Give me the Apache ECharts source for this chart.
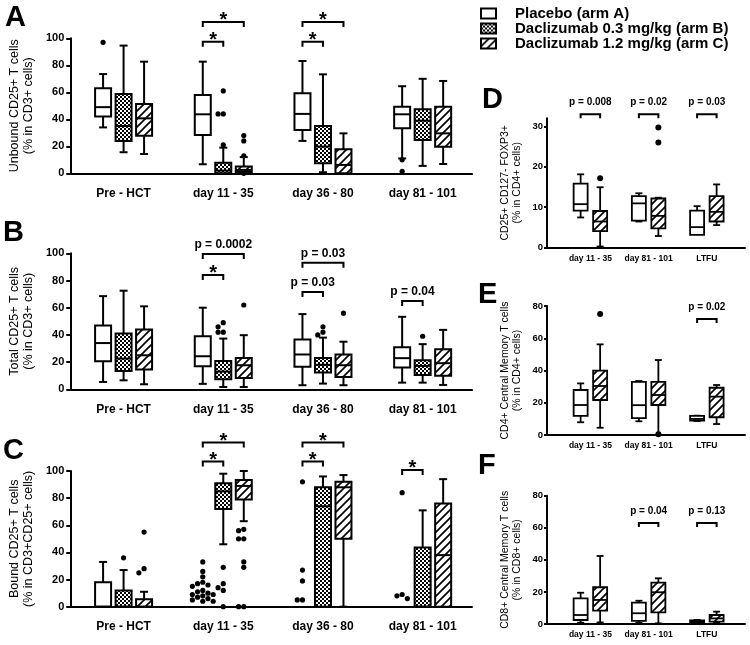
<!DOCTYPE html>
<html><head><meta charset="utf-8">
<script src="https://cdn.jsdelivr.net/npm/echarts@6/dist/echarts.min.js"></script>
<style>html,body{margin:0;padding:0;background:#fff}#c{width:750px;height:645px}</style>
</head><body><div id="c"></div><script>
// ---------- data ----------
const armNames = ['Placebo (arm A)', 'Daclizumab 0.3 mg/kg (arm B)', 'Daclizumab 1.2 mg/kg (arm C)'];
const catsABC = ['Pre - HCT', 'day 11 - 35', 'day 36 - 80', 'day 81 - 101'];
const catsDEF = ['day 11 - 35', 'day 81 - 101', 'LTFU'];
// box stats per category: [min, q1, median, q3, max]
const unboundPlacebo = [[34, 42, 49, 63, 73.5], [6.7, 28.4, 43.7, 58, 82.7], [24, 32, 44, 59.3, 83.2], [11, 33.3, 43.7, 49.3, 64.5]];
const unbound03 = [[15.6, 24, 35, 58.8, 94.6], [0, 0, 2, 7.9, 19], [0.8, 7.4, 19.8, 35, 73.3], [5.5, 24.7, 39, 47.4, 70]];
const unbound12 = [[14.3, 27.9, 40.7, 51.4, 82.7], [1, 1, 2.5, 5, 12], [0, 0, 6.2, 17.8, 29.6], [6.9, 19.7, 29.6, 49.3, 68.4]];
// outliers: [category index, value]
const unboundPlaceboOut = [[0, 97], [3, 10], [3, 1.5]];
const unbound03Out = [[1, 61], [1, 44], [1, 44], [1, 21]];
const unbound12Out = [[1, 28], [1, 24], [1, 13], [1, 0]];
const unboundSig = [[1, 0, 1, 97.5, '*'], [1, 0, 2, 112, '*'], [2, 0, 1, 97.5, '*'], [2, 0, 2, 112, '*']];

const totalPlacebo = [[5.4, 20.6, 34, 47, 68.5], [4, 17, 24.3, 39, 60], [3, 16.5, 25.6, 36.6, 55.3], [4.9, 16, 22.9, 31, 53.3]];
const total03 = [[6.6, 13.5, 22.6, 41, 72.5], [1.7, 7.4, 13, 20.9, 37.3], [4.2, 12.3, 18, 23, 38], [4.9, 10.6, 17.2, 21.4, 33.2]];
const total12 = [[3.7, 14.5, 25, 44, 61], [1.7, 8.4, 17.7, 23, 39.8], [3, 9, 17.7, 25.6, 35], [3.2, 10, 19.2, 29.5, 43.7]];
const totalPlaceboOut = [];
const total03Out = [[1, 49], [1, 46], [1, 42], [1, 42], [2, 46], [2, 42], [2, 40], [3, 39]];
const total12Out = [[1, 62], [2, 56]];
const totalSig = [[1, 0, 2, 99.5, 'p = 0.0002'], [1, 0, 1, 84, '*'], [2, 0, 2, 93, 'p = 0.03'], [2, 0, 1, 71.5, 'p = 0.03'], [3, 0, 1, 65, 'p = 0.04']];

const boundPlacebo = [[0, 0, 0, 18, 33], [0, 0, 0, 0, 0], [0, 0, 0, 0, 0], [0, 0, 0, 0, 0]];
const bound03 = [[0, 0, 0, 12, 27], [46, 72, 85, 91, 98], [0, 0, 74, 88, 96], [0, 0, 0, 43.7, 71]];
const bound12 = [[0, 0, 0, 5.4, 11], [63, 79, 89, 93.4, 100], [0, 50, 88, 92, 97], [0, 0, 38, 76, 94]];
const boundPlaceboOut = [[1, 33], [1, 26], [1, 22], [1, 18], [1, 17], [1, 16], [1, 15], [1, 12], [1, 11], [1, 10], [1, 9], [1, 9], [1, 8], [1, 7], [1, 6], [1, 5], [1, 4], [1, 4],
  [2, 92], [2, 27], [2, 19], [2, 5], [2, 5], [3, 84], [3, 9], [3, 8], [3, 6]];
const bound03Out = [[0, 36], [1, 29], [1, 17], [1, 14], [1, 12], [1, 0]];
const bound12Out = [[0, 55], [0, 28], [0, 25], [1, 57], [1, 56], [1, 50], [1, 50], [1, 33], [1, 29], [1, 0], [1, 0]];
const boundSig = [[1, 0, 1, 107, '*'], [1, 0, 2, 121, '*'], [2, 0, 1, 107, '*'], [2, 0, 2, 121, '*'], [3, 0, 1, 100.7, '*']];

const tregPlacebo = [[7.4, 9.1, 10.7, 15.8, 18.1], [6.4, 6.6, 10.9, 12.7, 13.4], [3.1, 3.1, 5.0, 9.1, 10.2]];
const treg12 = [[0.2, 4.0, 6.4, 9.0, 14.9], [2.8, 4.7, 7.8, 12.1, 12.3], [5.5, 6.4, 8.8, 12.7, 15.6]];
const tregPlaceboOut = [];
const treg12Out = [[0, 17.1], [1, 29.7], [1, 26]];
const tregSig = [[0, 0, 1, 33, 'p = 0.008'], [1, 0, 1, 33, 'p = 0.02'], [2, 0, 1, 33, 'p = 0.03']];

const cd4Placebo = [[7.9, 11.8, 18.6, 27.9, 32], [8.5, 10.5, 18.5, 33, 33.5], [8.7, 9, 10, 11.8, 12]];
const cd412 = [[4.5, 21.7, 30.4, 39.9, 56.2], [0, 18.6, 24.8, 33, 46.5], [6.8, 11, 23.8, 29.3, 31]];
const cd4PlaceboOut = [];
const cd412Out = [[0, 75], [1, 0.5]];
const cd4Sig = [[2, 0, 1, 72, 'p = 0.02']];

const cd8Placebo = [[0.8, 2.5, 5.6, 16, 19.5], [0.8, 1.9, 6.7, 13.3, 14.5], [0.5, 0.8, 1.5, 2.3, 2.5]];
const cd812 = [[1, 8.3, 15, 22.9, 42.4], [0.4, 7.3, 19.8, 25.8, 28.5], [0.8, 1.5, 3.5, 5.6, 7.7]];
const cd8PlaceboOut = [];
const cd812Out = [];
const cd8Sig = [[1, 0, 1, 63, 'p = 0.04'], [2, 0, 1, 63, 'p = 0.13']];

const ticks100 = [0, 20, 40, 60, 80, 100];
const ticks30 = [0, 10, 20, 30];
const ticks80 = [0, 20, 40, 60, 80];

// ---------- styling / layout ----------
const FONT = '"Liberation Sans", Arial, Helvetica, sans-serif';
function makeChecker() {
  const c = document.createElement('canvas'); c.width = 4; c.height = 4;
  const g = c.getContext('2d');
  g.fillStyle = '#fff'; g.fillRect(0, 0, 4, 4);
  g.fillStyle = '#000'; g.fillRect(0, 0, 2, 2); g.fillRect(2, 2, 2, 2);
  return c;
}
function makeHatch() {
  const s = 8; const c = document.createElement('canvas'); c.width = s; c.height = s;
  const g = c.getContext('2d');
  g.fillStyle = '#fff'; g.fillRect(0, 0, s, s);
  g.strokeStyle = '#000'; g.lineWidth = 1.7;
  g.beginPath();
  g.moveTo(-1, s + 1); g.lineTo(s + 1, -1);
  g.moveTo(-1, 1); g.lineTo(1, -1);
  g.moveTo(s - 1, s + 1); g.lineTo(s + 1, s - 1);
  g.stroke();
  return c;
}
const fills = ['#fff', { image: makeChecker(), repeat: 'repeat' }, { image: makeHatch(), repeat: 'repeat' }];

const big = { hw: 8, cap: 4, lw: 2, r: 2.6, step: 5.2, offs: { 0: -20.5, 1: 0, 2: 20.5 }, xFont: 12, xMargin: 14, yFont: 11, yMargin: 6, nameFont: 12.5, nameLH: 13.5, nameGap: 23, starFont: 20, pFont: 12, pGap: 3, tick: 5 };
const small = { hw: 7, cap: 3.5, lw: 1.8, r: 3, step: 6, offs: { 0: -9.75, 2: 9.75 }, xFont: 8.5, xMargin: 6.5, yFont: 9.5, yMargin: 4, nameFont: 10.5, nameLH: 12, nameGap: 24, starFont: 20, pFont: 10, pGap: 7, tick: 4 };

const panels = [
  { letter: 'A', lt: [5, 3], grid: { left: 57, top: 38.3, width: 415, height: 135 }, yMax: 100, ticks: ticks100, cats: catsABC, off: 0.535, xMax: 4.03, st: big,
    arms: [0, 1, 2], boxes: [unboundPlacebo, unbound03, unbound12], outs: [unboundPlaceboOut, unbound03Out, unbound12Out], sig: unboundSig,
    name: 'Unbound CD25+ T cells\n(% in CD3+ cells)' },
  { letter: 'B', lt: [3, 218], grid: { left: 57, top: 253.3, width: 415, height: 136 }, yMax: 100, ticks: ticks100, cats: catsABC, off: 0.535, xMax: 4.03, st: big,
    arms: [0, 1, 2], boxes: [totalPlacebo, total03, total12], outs: [totalPlaceboOut, total03Out, total12Out], sig: totalSig,
    name: 'Total CD25+ T cells\n(% in CD3+ cells)' },
  { letter: 'C', lt: [3, 436], grid: { left: 57, top: 471, width: 415, height: 135.7 }, yMax: 100, ticks: ticks100, cats: catsABC, off: 0.535, xMax: 4.03, st: big,
    arms: [0, 1, 2], boxes: [boundPlacebo, bound03, bound12], outs: [boundPlaceboOut, bound03Out, bound12Out], sig: boundSig,
    name: 'Bound CD25+ T cells\n(% in CD3+CD25+ cells)' },
  { letter: 'D', lt: [482, 85], grid: { left: 547, top: 118.3, width: 198, height: 129 }, yMax: 32, ticks: ticks30, cats: catsDEF, off: 0.745, xMax: 3.4, st: small,
    arms: [0, 2], boxes: [tregPlacebo, treg12], outs: [tregPlaceboOut, treg12Out], sig: tregSig,
    name: 'CD25+ CD127- FOXP3+\n(% in CD4+ cells)' },
  { letter: 'E', lt: [478, 280], grid: { left: 547, top: 306, width: 198, height: 129 }, yMax: 80, ticks: ticks80, cats: catsDEF, off: 0.745, xMax: 3.4, st: small,
    arms: [0, 2], boxes: [cd4Placebo, cd412], outs: [cd4PlaceboOut, cd412Out], sig: cd4Sig,
    name: 'CD4+ Central Memory T cells\n(% in CD4+ cells)' },
  { letter: 'F', lt: [478, 451], grid: { left: 547, top: 495.7, width: 198, height: 128.3 }, yMax: 80, ticks: ticks80, cats: catsDEF, off: 0.745, xMax: 3.4, st: small,
    arms: [0, 2], boxes: [cd8Placebo, cd812], outs: [cd8PlaceboOut, cd812Out], sig: cd8Sig,
    name: 'CD8+ Central Memory T cells\n(% in CD8+ cells)' }
];

// simple beeswarm jitter (pixel offsets) for outlier dots of one box
function swarm(outs, ppu, st) {
  const res = new Array(outs.length).fill(0);
  const byCat = {};
  outs.forEach((o, i) => { (byCat[o[0]] = byCat[o[0]] || []).push(i); });
  Object.values(byCat).forEach(idx => {
    idx.sort((a, b) => outs[b][1] - outs[a][1]);
    const placed = [];
    idx.forEach(i => {
      const y = outs[i][1] * ppu;
      for (let k = 0; k < 20; k++) {
        const m = k === 0 ? 0 : (k % 2 ? -Math.ceil(k / 2) : Math.ceil(k / 2));
        const x = m * st.step;
        if (placed.every(p => (p[0] - x) ** 2 + (p[1] - y) ** 2 >= (st.step - 0.3) ** 2)) {
          placed.push([x, y]); res[i] = x; break;
        }
      }
    });
  });
  return res;
}

const option = {
  animation: false,
  backgroundColor: '#fff',
  title: panels.map(p => ({ text: p.letter, left: p.lt[0], top: p.lt[1], padding: 0,
    textStyle: { fontSize: 29, fontWeight: 'bold', color: '#000', fontFamily: FONT } })),
  legend: {
    left: 480, top: 6, padding: 0, orient: 'vertical', itemWidth: 15, itemHeight: 10, itemGap: 0, selectedMode: false,
    data: armNames.map((n, i) => ({ name: n, icon: 'rect', itemStyle: { color: fills[i], borderColor: '#000', borderWidth: 2 } })),
    textStyle: { fontSize: 15, fontWeight: 'bold', color: '#000', fontFamily: FONT, lineHeight: 15, padding: [0, 0, 0, 14] }
  },
  grid: panels.map(p => Object.assign({ containLabel: false }, p.grid)),
  xAxis: panels.map((p, gi) => ({
    gridIndex: gi, type: 'value', min: 0, max: p.xMax,
    axisLine: { show: true, onZero: false, lineStyle: { color: '#000', width: 2 } },
    axisTick: { show: false }, splitLine: { show: false },
    axisLabel: { customValues: p.cats.map((c, i) => i + p.off), formatter: v => p.cats[Math.round(v - p.off)],
      fontSize: p.st.xFont, fontWeight: 'bold', color: '#000', fontFamily: FONT, margin: p.st.xMargin }
  })),
  yAxis: panels.map((p, gi) => ({
    gridIndex: gi, type: 'value', min: 0, max: p.yMax,
    axisLine: { show: true, lineStyle: { color: '#000', width: 2 } },
    axisTick: { show: true, length: p.st === big ? 4 : 3, customValues: p.ticks, lineStyle: { color: '#000', width: 2 } },
    splitLine: { show: false },
    axisLabel: { customValues: p.ticks, fontSize: p.st.yFont, fontWeight: 'bold', color: '#000', fontFamily: FONT, margin: p.st.yMargin },
    name: p.name, nameLocation: 'middle', nameGap: p.st.nameGap,
    nameTextStyle: { fontSize: p.st.nameFont, lineHeight: p.st.nameLH, color: '#000', fontFamily: FONT }
  })),
  series: []
};

panels.forEach((p, gi) => {
  const st = p.st;
  const ppu = p.grid.height / p.yMax;
  p.arms.forEach((arm, k) => {
    const dx = st.offs[arm];
    option.series.push({
      type: 'custom', name: armNames[arm], xAxisIndex: gi, yAxisIndex: gi, clip: false, silent: true, z: 3,
      itemStyle: { color: fills[arm], borderColor: '#000', borderWidth: 2 },
      data: p.boxes[k].map((s, i) => [i + p.off].concat(s)),
      encode: { x: 0, y: [1, 2, 3, 4, 5] },
      renderItem: (params, api) => {
        const xv = api.value(0);
        const cx = api.coord([xv, 0])[0] + dx;
        const Y = j => api.coord([xv, api.value(j)])[1];
        const ymin = Y(1), yq1 = Y(2), ymed = Y(3), yq3 = Y(4), ymax = Y(5);
        const ls = { stroke: '#000', lineWidth: st.lw };
        const ch = [];
        if (ymax < yq3 - 0.3) {
          ch.push({ type: 'line', shape: { x1: cx, y1: yq3, x2: cx, y2: ymax }, style: ls });
          ch.push({ type: 'line', shape: { x1: cx - st.cap, y1: ymax, x2: cx + st.cap, y2: ymax }, style: ls });
        }
        if (ymin > yq1 + 0.3) {
          ch.push({ type: 'line', shape: { x1: cx, y1: yq1, x2: cx, y2: ymin }, style: ls });
          ch.push({ type: 'line', shape: { x1: cx - st.cap, y1: ymin, x2: cx + st.cap, y2: ymin }, style: ls });
        }
        if (yq1 - yq3 > 0.3) {
          ch.push({ type: 'rect', shape: { x: cx - st.hw, y: yq3, width: 2 * st.hw, height: yq1 - yq3 },
            style: { fill: fills[arm], stroke: '#000', lineWidth: st.lw } });
          ch.push({ type: 'line', shape: { x1: cx - st.hw, y1: ymed, x2: cx + st.hw, y2: ymed }, style: ls });
        }
        return { type: 'group', children: ch };
      }
    });
    const outs = p.outs[k];
    if (outs.length) {
      const jit = swarm(outs, ppu, st);
      option.series.push({
        type: 'custom', name: armNames[arm], xAxisIndex: gi, yAxisIndex: gi, clip: false, silent: true, z: 4,
        itemStyle: { color: fills[arm], borderColor: '#000', borderWidth: 2 },
        data: outs.map(o => [o[0] + p.off, o[1]]),
        encode: { x: 0, y: 1 },
        renderItem: (params, api) => {
          const pt = api.coord([api.value(0), api.value(1)]);
          return { type: 'circle', shape: { cx: pt[0] + dx + jit[params.dataIndex], cy: pt[1], r: st.r }, style: { fill: '#000' } };
        }
      });
    }
  });
  // significance brackets
  option.series.push({
    type: 'custom', name: 'sig' + p.letter, xAxisIndex: gi, yAxisIndex: gi, clip: false, silent: true, z: 5,
    data: p.sig.map(b => [b[0] + p.off, b[3]]),
    encode: { x: 0, y: 1 },
    renderItem: (params, api) => {
      const b = p.sig[params.dataIndex];
      const pt = api.coord([api.value(0), api.value(1)]);
      const x1 = pt[0] + st.offs[p.arms[b[1]]], x2 = pt[0] + st.offs[p.arms[b[2]]], y = pt[1];
      const isStar = b[4] === '*';
      return { type: 'group', children: [
        { type: 'polyline', shape: { points: [[x1, y + st.tick], [x1, y], [x2, y], [x2, y + st.tick]] }, style: { stroke: '#000', lineWidth: 2, fill: null } },
        { type: 'text', x: (x1 + x2) / 2, y: isStar ? y - 1.5 : y - st.pGap,
          style: { text: b[4], fill: '#000', fontFamily: FONT, fontWeight: 'bold', fontSize: isStar ? st.starFont : st.pFont,
            align: 'center', verticalAlign: isStar ? 'middle' : 'bottom' } }
      ] };
    }
  });
});

const chart = echarts.init(document.getElementById('c'), null, { renderer: 'canvas' });
chart.setOption(option);
</script></body></html>
